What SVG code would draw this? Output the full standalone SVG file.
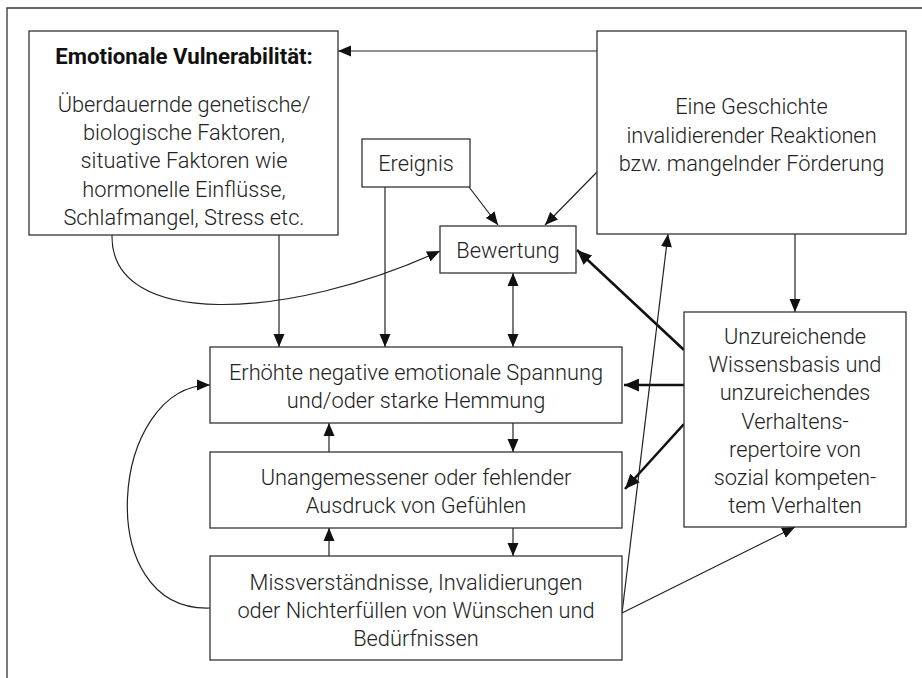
<svg xmlns="http://www.w3.org/2000/svg" width="922" height="678" viewBox="0 0 922 678">
<defs>
<style>
.box{fill:#fff;stroke:#333;stroke-width:1.3}
.t{font-family:Roboto,"Liberation Sans",sans-serif;font-weight:300;font-size:21.8px;fill:#222;text-anchor:middle}
.b{font-family:Roboto,"Liberation Sans",sans-serif;font-weight:700;font-size:22.2px;fill:#111;text-anchor:middle}
.c{fill:none;stroke:#222;stroke-width:1.2}
.k{fill:none;stroke:#111;stroke-width:2.6}
.f{fill:none;stroke:#333;stroke-width:1.3}
</style>
<marker id="a" markerUnits="userSpaceOnUse" markerWidth="14" markerHeight="12" refX="13" refY="5.5" orient="auto-start-reverse" viewBox="0 0 14 11"><path d="M0,0 L13,5.5 L0,11 Z" fill="#111"/></marker>
<marker id="ak" markerUnits="userSpaceOnUse" markerWidth="16" markerHeight="13" refX="14" refY="6" orient="auto" viewBox="0 0 15 12"><path d="M0,0 L14,6 L0,12 Z" fill="#111"/></marker>
</defs>
<path class="f" d="M7,678 V8 H922"/>
<g id="connectors">
<path class="c" d="M597,51 H338" marker-end="url(#a)"/>
<path class="c" d="M469,187 L498,225" marker-end="url(#a)"/>
<path class="c" d="M597,172 L545,225" marker-end="url(#a)"/>
<path class="c" d="M385,187 V347" marker-end="url(#a)"/>
<path class="c" d="M279,235 V347" marker-end="url(#a)"/>
<path class="c" d="M112,235 C110,330 290,320 440,251" marker-end="url(#a)"/>
<path class="c" d="M513,273 V347" marker-start="url(#a)" marker-end="url(#a)"/>
<path class="c" d="M513,423 V452" marker-end="url(#a)"/>
<path class="c" d="M329,452 V423" marker-end="url(#a)"/>
<path class="c" d="M513,528 V556" marker-end="url(#a)"/>
<path class="c" d="M329,556 V528" marker-end="url(#a)"/>
<path class="c" d="M210,608 C90,612 110,385 210,385" marker-end="url(#a)"/>
<path class="c" d="M795,234 V312" marker-end="url(#a)"/>
<path class="k" d="M684,350 L577,250" marker-end="url(#ak)"/>
<path class="k" d="M684,385 H624" marker-end="url(#ak)"/>
<path class="k" d="M684,424 L625,489" marker-end="url(#ak)"/>
<path class="c" d="M622,613 L668,234" marker-end="url(#a)"/>
<path class="c" d="M622,613 L795,527" marker-end="url(#a)"/>
</g>
<g id="vulnerabilitaet">
<rect class="box" x="29" y="31" width="309" height="204"/>
<text class="b" x="184" y="64">Emotionale Vulnerabilität:</text>
<text class="t" x="184" y="112">Überdauernde genetische/</text>
<text class="t" x="184" y="140">biologische Faktoren,</text>
<text class="t" x="184" y="168">situative Faktoren wie</text>
<text class="t" x="184" y="197">hormonelle Einflüsse,</text>
<text class="t" x="184" y="225">Schlafmangel, Stress etc.</text>
</g>
<g id="ereignis">
<rect class="box" x="362" y="139" width="108" height="48"/>
<text class="t" x="416" y="171">Ereignis</text>
</g>
<g id="geschichte">
<rect class="box" x="597" y="31" width="309" height="203"/>
<text class="t" x="751.5" y="114">Eine Geschichte</text>
<text class="t" x="751.5" y="143">invalidierender Reaktionen</text>
<text class="t" x="751.5" y="171">bzw. mangelnder Förderung</text>
</g>
<g id="bewertung">
<rect class="box" x="440" y="226" width="136" height="47"/>
<text class="t" x="508" y="258">Bewertung</text>
</g>
<g id="spannung">
<rect class="box" x="210" y="347" width="412" height="76"/>
<text class="t" x="416" y="380">Erhöhte negative emotionale Spannung</text>
<text class="t" x="416" y="408">und/oder starke Hemmung</text>
</g>
<g id="ausdruck">
<rect class="box" x="210" y="452" width="412" height="76"/>
<text class="t" x="416" y="485">Unangemessener oder fehlender</text>
<text class="t" x="416" y="513">Ausdruck von Gefühlen</text>
</g>
<g id="missverstaendnisse">
<rect class="box" x="210" y="556" width="412" height="104"/>
<text class="t" x="416" y="590">Missverständnisse, Invalidierungen</text>
<text class="t" x="416" y="618">oder Nichterfüllen von Wünschen und</text>
<text class="t" x="416" y="646">Bedürfnissen</text>
</g>
<g id="wissensbasis">
<rect class="box" x="684" y="312" width="222" height="215"/>
<text class="t" x="795" y="344">Unzureichende</text>
<text class="t" x="795" y="372">Wissensbasis und</text>
<text class="t" x="795" y="400">unzureichendes</text>
<text class="t" x="795" y="429">Verhaltens-</text>
<text class="t" x="795" y="457">repertoire von</text>
<text class="t" x="795" y="485">sozial kompeten-</text>
<text class="t" x="795" y="513">tem Verhalten</text>
</g>
</svg>
